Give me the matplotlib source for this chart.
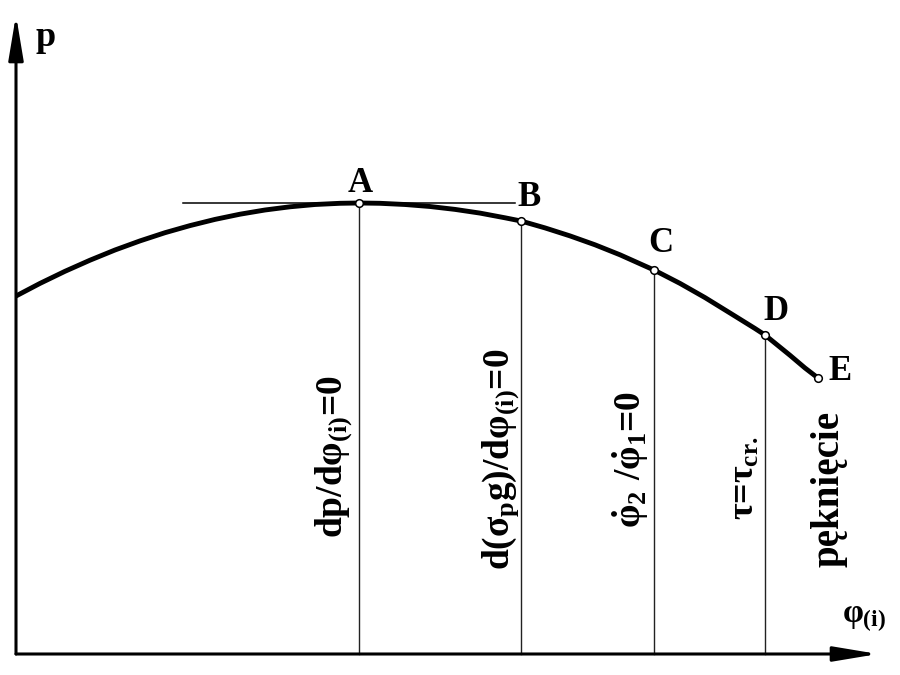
import numpy as np
import matplotlib
matplotlib.use('Agg')
import matplotlib.pyplot as plt

plt.rcParams['font.family'] = ['Liberation Serif', 'DejaVu Serif']
plt.rcParams['font.weight'] = 'bold'
plt.rcParams['mathtext.fontset'] = 'custom'
plt.rcParams['mathtext.rm'] = 'Liberation Serif:bold'
plt.rcParams['mathtext.it'] = 'Liberation Serif:bold'
plt.rcParams['mathtext.bf'] = 'Liberation Serif:bold'

# p(phi) curve (axis origin at 0,0)
phi = [0, 24, 49, 74, 99, 124, 149, 174, 199, 224, 249, 274, 299, 324, 343,
       364, 389, 414, 439, 464, 489, 505, 529, 554, 579, 604, 629, 638,
       664, 689, 714, 739, 749, 774, 789, 802]
p = [358, 370.6, 382.7, 393.8, 404, 413.1, 421.3, 428.4, 434.6, 439.8, 444,
     447.2, 449.5, 450.7, 451, 450.7, 449.5, 447.5, 444.6, 440.9, 436.2, 433,
     426.1, 418.1, 409.2, 399.2, 388, 384, 370.6, 356.4, 341, 325.5, 319,
     298.7, 286, 276]

# characteristic points
names = ['A', 'B', 'C', 'D', 'E']
pt_phi = [343, 505, 638, 749, 802]
pt_p = [451, 433, 384, 319, 276]
conds = [r'$dp/d\varphi_{(i)}$=0',
         r'$d(\sigma_p g)/d\varphi_{(i)}$=0',
         r'$\dot{\varphi}_2\ /\dot{\varphi}_1$=0',
         r'$\tau$=$\tau_{cr.}$',
         'pęknięcie']

# horizontal tangent through A
tang_phi = [167, 499]

fig = plt.figure(figsize=(9, 6.75), dpi=100)
ax = fig.add_axes([0, 0, 1, 1])
ax.set_xlim(-16, 884)
ax.set_ylim(-21, 654)
ax.axis('off')

# axes with arrows
arrow = dict(arrowstyle='-|>,head_length=2.7,head_width=0.45', lw=2.2,
             color='black', mutation_scale=10, shrinkA=0, shrinkB=0)
ax.annotate('', xy=(0, 639), xytext=(0, 0), arrowprops=arrow)
ax.annotate('', xy=(862, 0), xytext=(0, 0), arrowprops=arrow)
ax.text(19, 616, 'p', fontsize=26, ha='left', va='center')
ax.text(826, 35, r'$\varphi_{(i)}$', fontsize=24, ha='left', va='center')

# vertical lines from A-D down to the phi axis
for x, y in zip(pt_phi[:4], pt_p[:4]):
    ax.plot([x, x], [0, y], color='#222222', lw=1.0, zorder=1)
ax.plot(tang_phi, [pt_p[0], pt_p[0]], color='black', lw=1.1, zorder=1)

ax.plot(phi, p, color='black', lw=3.5, solid_capstyle='butt',
        solid_joinstyle='round', zorder=2)
ax.plot(pt_phi, pt_p, 'o', ms=5.5, mfc='white', mec='black', mew=1.1, zorder=3)

# point letters
offs = [(1, 14), (6, 17), (5, 19), (8, 17), (16, 5)]
for n, x, y, o in zip(names, pt_phi, pt_p, offs):
    ax.annotate(n, (x, y), xytext=o, textcoords='offset points',
                fontsize=25, ha='center', va='center')

# rotated condition labels
cond_dx = [-25, -20, -23, -20, 11]
cond_y = [116, 84, 126, 134, 87]
cond_fs = [27, 27, 27, 26, 28]
for c, x, dx, y, fs in zip(conds, pt_phi, cond_dx, cond_y, cond_fs):
    ax.text(x + dx, y, c, fontsize=fs, rotation=90, ha='center', va='bottom')

fig.savefig('out.png', dpi=100)
